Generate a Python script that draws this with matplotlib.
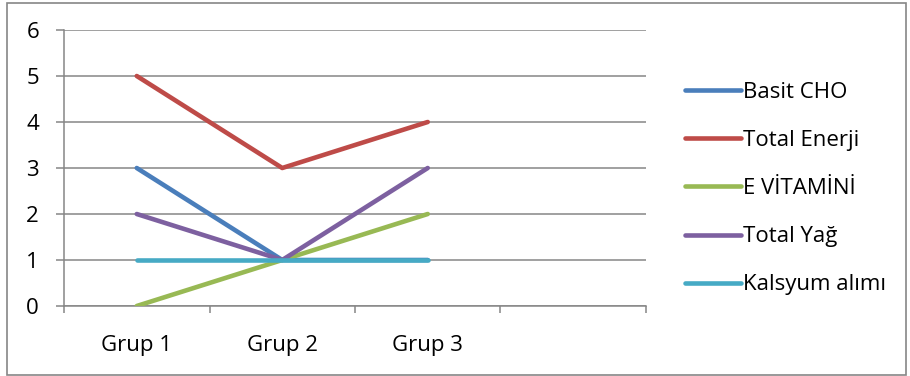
import matplotlib
matplotlib.use('Agg')

import matplotlib.pyplot as plt
from matplotlib.patches import Rectangle

plt.rcParams['font.family'] = ['Open Sans', 'DejaVu Sans']

# veriler
gruplar = ['Grup 1', 'Grup 2', 'Grup 3']
basit_cho = [3, 1, 1]
total_enerji = [5, 3, 4]
e_vitamini = [0, 1, 2]
total_yag = [2, 1, 3]
kalsyum = [1, 1, 1]

seriler = [
    ('Basit CHO', basit_cho, '#4A7EBB'),
    ('Total Enerji', total_enerji, '#BE4B48'),
    ('E VİTAMİNİ', e_vitamini, '#98B954'),
    ('Total Yağ', total_yag, '#7D60A0'),
    ('Kalsyum alımı', kalsyum, '#46AAC5'),
]

W, H = 910, 376
fig = plt.figure(figsize=(W / 100, H / 100), dpi=100)
ax = fig.add_axes([64 / W, (H - 306) / H, (646 - 64) / W, (306 - 30) / H])

# dış çerçeve
fig.patches.append(Rectangle((7 / W, 1.5 / H), (906 - 7) / W, (373 - 1.5) / H,
                             transform=fig.transFigure, fill=False,
                             edgecolor='#868686', linewidth=1.2))

x = list(range(len(gruplar)))
for ad, degerler, renk in seriler:
    ax.plot(x, degerler, color=renk, linewidth=3.3, solid_capstyle='round',
            solid_joinstyle='round', label=ad, zorder=3)

ax.set_xlim(-0.5, 3.5)
ax.set_ylim(0, 6)
ax.set_yticks(range(7))
ax.set_xticks(x)
ax.set_xticklabels(gruplar)
ax.set_xticks([-0.5, 0.5, 1.5, 2.5, 3.5], minor=True)

ax.grid(axis='y', color='#868686', linewidth=1.1, zorder=1)
for s in ['top', 'right']:
    ax.spines[s].set_visible(False)
for s in ['left', 'bottom']:
    ax.spines[s].set_color('#868686')
    ax.spines[s].set_linewidth(1.1)

ax.tick_params(axis='y', length=6, width=1.1, color='#868686', pad=12, labelsize=16)
ax.tick_params(axis='x', which='major', length=0, pad=21, labelsize=16)
ax.tick_params(axis='x', which='minor', length=5, width=1.1, color='#868686')

fig.legend(loc='upper left', bbox_to_anchor=(685 / W, (H - 82) / H), frameon=False,
           fontsize=16, handlelength=2.5, handletextpad=0.12, labelspacing=1.22,
           borderaxespad=0, borderpad=0)

fig.savefig('out.png', dpi=100)
